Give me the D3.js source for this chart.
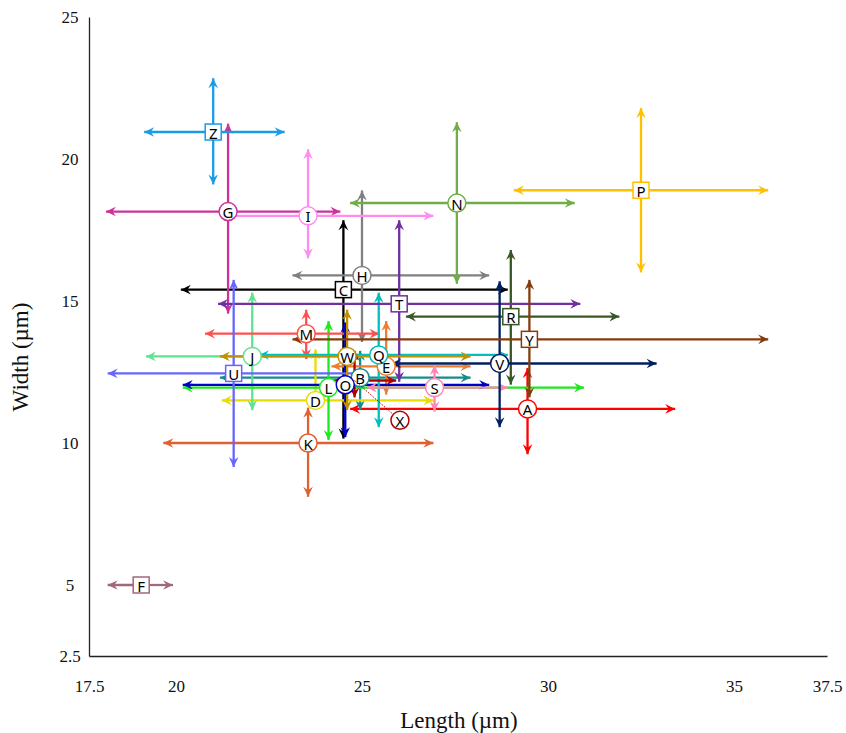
<!DOCTYPE html>
<html>
<head>
<meta charset="utf-8">
<script src="https://cdn.jsdelivr.net/npm/d3@7"></script>
<style>
  html, body { margin: 0; padding: 0; background: #fff; }
  svg { display: block; }
</style>
</head>
<body>
<svg id="chart" width="846" height="733"></svg>
<script>
// ---- data ----
const labels = ["A","B","C","D","E","F","G","H","I","J","K","L","M","N","O","P","Q","R","S","T","U","V","W","X","Y","Z"];
const lengthMean = [29.45,24.95,24.5,23.75,25.65,19.0,21.4,25.0,23.55,22.05,23.55,24.1,23.5,27.55,24.55,32.5,25.45,29.0,26.95,26.0,21.55,28.7,24.6,24.8,29.5,21.0];
const lengthMin  = [24.6,21.1,20.05,21.15,24.1,17.95,17.9,23.05,21.1,19.05,19.55,20.1,20.7,24.6,20.1,29.0,22.15,26.1,25.05,21.05,17.95,25.7,21.1,24.15,23.05,19.0];
const lengthMax  = [33.5,28.0,29.0,27.0,28.0,20.0,24.5,28.5,27.0,25.1,27.0,31.05,25.55,30.8,28.5,36.0,29.0,32.0,29.0,30.95,25.1,33.0,28.0,26.0,36.0,23.0];
const widthMean  = [11.2,12.3,15.4,11.5,12.7,5.0,18.15,15.9,18.0,13.05,10.0,11.95,13.85,18.45,12.05,18.9,13.1,14.45,11.95,14.9,12.45,12.8,13.05,12.2,13.65,20.95];
const widthMin   = [9.5,11.05,10.05,11.1,11.6,5.0,14.45,13.45,16.4,11.05,8.0,10.0,12.85,15.5,10.1,15.9,10.45,11.95,11.0,12.05,9.05,10.45,11.05,11.5,11.5,19.0];
const widthMax   = [12.75,13.35,17.95,13.4,14.4,5.0,21.35,19.0,20.45,15.4,11.35,14.4,14.8,21.4,14.35,21.9,15.4,16.9,12.85,17.95,15.85,15.8,14.8,13.35,15.85,22.95];
const shapes     = ["circle","circle","square","circle","circle","square","circle","circle","circle","circle","circle","circle","circle","circle","circle","square","circle","square","circle","square","square","circle","circle","circle","square","square"];
const colors     = ["#FF0000","#178C8C","#000000","#E8DC00","#ED7D31","#A0687A","#CC3399","#808080","#FF8CF0","#5EE38F","#E06030","#1EE81E","#FF5050","#70AD47","#0000CC","#FFC000","#00BFBF","#385723","#FF85B5","#7030A0","#6666FF","#002060","#BF9000","#B00000","#843C0C","#1A9BE8"];
// label X is placed away from its cross and joined with a dotted leader
const labelOffsetName = ["X"];
const labelOffsetPos = [[26.02, 10.8]];

const xTicks = [17.5, 20, 25, 30, 35, 37.5];
const yTicks = [2.5, 5, 10, 15, 20, 25];
const xTitle = "Length (µm)";
const yTitle = "Width (µm)";

// ---- build ----
const data = labels.map((l, i) => ({
  label: l, x: lengthMean[i], x0: lengthMin[i], x1: lengthMax[i],
  y: widthMean[i], y0: widthMin[i], y1: widthMax[i],
  shape: shapes[i], color: colors[i]
}));

const svg = d3.select("#chart");
const x = d3.scaleLinear().domain([17.5, 20, 37.5]).range([89, 176, 827]);
const y = d3.scaleLinear().domain([2.5, 25]).range([656, 17]);

const defs = svg.append("defs");
data.forEach((d, i) => {
  defs.append("marker")
    .attr("id", "arr" + i)
    .attr("markerUnits", "userSpaceOnUse")
    .attr("viewBox", "-11 -6 12 12")
    .attr("refX", 0).attr("refY", 0)
    .attr("markerWidth", 12).attr("markerHeight", 12)
    .attr("orient", "auto")
    .append("path")
    .attr("d", "M0,0 L-10,-4.8 L-6.5,0 L-10,4.8 Z")
    .attr("fill", d.color);
});

// axes
const gx = svg.append("g").attr("transform", `translate(0,${y(2.5)})`)
  .call(d3.axisBottom(x).tickValues(xTicks).tickSize(0).tickSizeOuter(0).tickPadding(24).tickFormat(d => d));
const gy = svg.append("g").attr("transform", `translate(${x(17.5)},0)`)
  .call(d3.axisLeft(y).tickValues(yTicks).tickSize(0).tickSizeOuter(0).tickPadding(19).tickFormat(d => d));
[gx, gy].forEach(g => {
  g.select(".domain").attr("stroke", "#222").attr("stroke-width", 1.3);
  g.selectAll("text").attr("font-family", "'Liberation Serif', 'Times New Roman', serif")
    .attr("font-size", 17).attr("fill", "#111");
});
gy.selectAll("text").attr("text-anchor", "middle").attr("x", -19);

svg.append("text").attr("x", 459).attr("y", 728)
  .attr("text-anchor", "middle").attr("font-family", "'Liberation Serif', serif")
  .attr("font-size", 23).attr("fill", "#111").text(xTitle);
svg.append("text").attr("transform", "translate(28,357) rotate(-90)")
  .attr("text-anchor", "middle").attr("font-family", "'Liberation Serif', serif")
  .attr("font-size", 23).attr("fill", "#111").text(yTitle);

// arrows
const SH = 3;
const arrows = svg.append("g");
data.forEach((d, i) => {
  const cx = x(d.x), cy = y(d.y);
  const ends = [[x(d.x0), cy], [x(d.x1), cy], [cx, y(d.y0)], [cx, y(d.y1)]];
  ends.forEach(([ex, ey]) => {
    const dx = ex - cx, dy = ey - cy, len = Math.hypot(dx, dy);
    if (len < 12) return;
    arrows.append("line")
      .attr("x1", cx).attr("y1", cy)
      .attr("x2", ex - dx / len * SH).attr("y2", ey - dy / len * SH)
      .attr("stroke", d.color).attr("stroke-width", 2.3)
      .attr("marker-end", `url(#arr${i})`);
  });
});

// labels
const marks = svg.append("g");
data.forEach(d => {
  let lx = x(d.x), ly = y(d.y);
  const k = labelOffsetName.indexOf(d.label);
  if (k >= 0) {
    const nx = x(labelOffsetPos[k][0]), ny = y(labelOffsetPos[k][1]);
    marks.append("line").attr("x1", lx).attr("y1", ly).attr("x2", nx).attr("y2", ny)
      .attr("stroke", d.color).attr("stroke-width", 1).attr("stroke-dasharray", "1.5,1.5");
    lx = nx; ly = ny;
  }
  if (d.shape === "circle") {
    marks.append("circle").attr("cx", lx).attr("cy", ly).attr("r", 9)
      .attr("fill", "#fff").attr("stroke", d.color).attr("stroke-width", 1.5);
  } else {
    marks.append("rect").attr("x", lx - 8).attr("y", ly - 8).attr("width", 16).attr("height", 16)
      .attr("fill", "#fff").attr("stroke", d.color).attr("stroke-width", 1.5);
  }
  marks.append("text").attr("x", lx).attr("y", ly + 0.5)
    .attr("text-anchor", "middle").attr("dominant-baseline", "central")
    .attr("font-family", "'Noto Sans', 'DejaVu Sans', sans-serif").attr("font-size", 15)
    .attr("fill", "#000").text(d.label);
});
</script>
</body>
</html>
